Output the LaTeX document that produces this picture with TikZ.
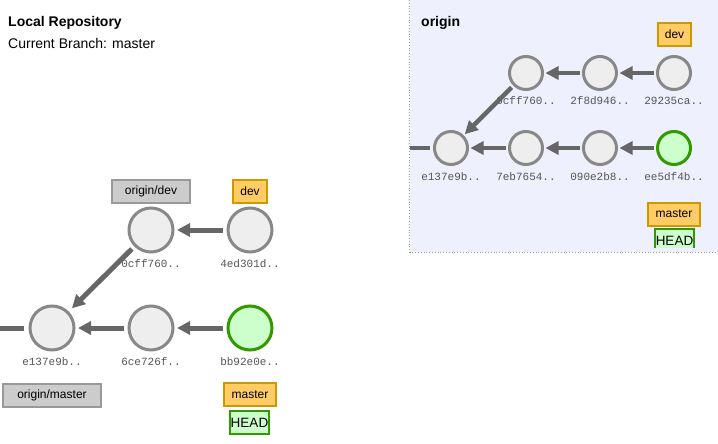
\documentclass[tikz,border=0pt]{standalone}
\usepackage{fontspec}
\setmainfont{Liberation Sans}
\newfontfamily\hashfont{Liberation Mono}
\usetikzlibrary{arrows.meta}
\definecolor{cgray}{HTML}{888888}
\definecolor{cfill}{HTML}{EEEEEE}
\definecolor{agray}{HTML}{666666}
\definecolor{gstroke}{HTML}{339900}
\definecolor{gfill}{HTML}{CCFFCC}
\definecolor{bfill}{HTML}{FFCC66}
\definecolor{bstroke}{HTML}{CC9900}
\definecolor{rfill}{HTML}{CCCCCC}
\definecolor{rstroke}{HTML}{999999}
\definecolor{panelbg}{HTML}{EEF0FD}
\definecolor{hashcol}{HTML}{555555}
\tikzset{
  commit/.style={circle,draw=cgray,fill=cfill,line width=3pt,inner sep=0pt,outer sep=0pt,minimum size=#1},
  headcommit/.style={commit=#1,draw=gstroke,fill=gfill},
  hashlbl/.style={font=\hashfont\fontsize{11}{12}\selectfont,text=hashcol,inner sep=0pt},
  parentarrow/.style={draw=agray,line width=5pt,-{Triangle[length=13pt,width=13pt]},shorten >=4pt,shorten <=5pt},
  stub/.style={draw=agray,line width=5pt},
  lblbase/.style={line width=2pt,inner sep=0pt,minimum height=23pt,font=\fontsize{12}{14}\selectfont},
  branchlbl/.style={lblbase,draw=bstroke,fill=bfill,minimum width=#1},
  remotelbl/.style={lblbase,draw=rstroke,fill=rfill,minimum width=#1},
  headlbl/.style={lblbase,draw=gstroke,fill=gfill,minimum width=#1,font=\fontsize{13.5}{15}\selectfont},
}
\begin{document}
\begin{tikzpicture}[x=1pt,y=-1pt]
\useasboundingbox (0,0) rectangle (718,444);
\fill[white] (0,0) rectangle (718,444);
% ---- origin panel ----
\fill[panelbg] (409.5,0) rectangle (718,252);
\draw[rstroke,dotted,line width=0.8pt] (409.5,0) -- (409.5,252) -- (718,252);
% ---- titles ----
\node[anchor=base west,inner sep=0pt,font=\bfseries\fontsize{14}{16}\selectfont] (ttl) at (8,27) {Local Repository};
\node[anchor=base west,inner sep=0pt,font=\fontsize{14}{16}\selectfont] (cur) at (8,49) {Current Branch: master};
\node[anchor=base west,inner sep=0pt,font=\bfseries\fontsize{14}{16}\selectfont] (otl) at (421,27) {origin};
% ---- local commits ----
\node[commit=44pt] (le1) at (52,328) {};
\node[commit=44pt] (l6c) at (151,328) {};
\node[headcommit=44pt] (lbb) at (250,328) {};
\node[commit=44pt] (l0c) at (151,230) {};
\node[commit=44pt] (l4e) at (250,230) {};
\node[hashlbl] at (52,362) {e137e9b..};
\node[hashlbl] at (151,362) {6ce726f..};
\node[hashlbl] at (250,362) {bb92e0e..};
\node[hashlbl] at (151,264) {0cff760..};
\node[hashlbl] at (250,264) {4ed301d..};
\coordinate (lstub) at (0,328);
\draw[stub] (lstub) -- ([xshift=-6pt]le1.west);
\draw[parentarrow] (l4e) -- (l0c);
\draw[parentarrow] (lbb) -- (l6c);
\draw[parentarrow] (l6c) -- (le1);
\draw[parentarrow,shorten >=6pt] (l0c) -- (le1);
% local labels
\node[remotelbl=78pt] (lodev) at (151,191.5) {origin/dev};
\node[branchlbl=34pt] (ldev) at (250,191.5) {dev};
\node[remotelbl=98pt] (lomas) at (52,395) {origin/master};
\node[branchlbl=52pt] (lmas) at (250,394.5) {master};
\node[headlbl=39pt] (lhead) at (249.5,422.5) {HEAD};
% ---- origin commits ----
\node[commit=33pt] (oe1) at (451,148) {};
\node[commit=33pt] (o7e) at (526,148) {};
\node[commit=33pt] (o09) at (600,148) {};
\node[headcommit=33pt] (oee) at (674,148) {};
\node[commit=33pt] (o0c) at (526,73) {};
\node[commit=33pt] (o2f) at (600,73) {};
\node[commit=33pt] (o29) at (674,73) {};
\node[hashlbl] at (451,177) {e137e9b..};
\node[hashlbl] at (526,177) {7eb7654..};
\node[hashlbl] at (600,177) {090e2b8..};
\node[hashlbl] at (674,177) {ee5df4b..};
\node[hashlbl] at (526,101) {0cff760..};
\node[hashlbl] at (600,101) {2f8d946..};
\node[hashlbl] at (674,101) {29235ca..};
\coordinate (ostub) at (410,148);
\draw[stub,line width=4.5pt] (ostub) -- ([xshift=-5pt]oe1.west);
\tikzset{oarrow/.style={parentarrow,line width=4.5pt,shorten <=4pt,shorten >=3pt}}
\draw[oarrow] (o29) -- (o2f);
\draw[oarrow] (o2f) -- (o0c);
\draw[oarrow] (oee) -- (o09);
\draw[oarrow] (o09) -- (o7e);
\draw[oarrow] (o7e) -- (oe1);
\draw[oarrow] (o0c) -- (oe1);
\node[branchlbl=33pt] (odev) at (674.5,34.5) {dev};
\node[branchlbl=52pt] (omas) at (674,214) {master};
\begin{scope}
\clip (410,0) rectangle (718,247);
\node[headlbl=39pt] (ohead) at (674.5,240.5) {HEAD};
\end{scope}
\end{tikzpicture}
\end{document}
